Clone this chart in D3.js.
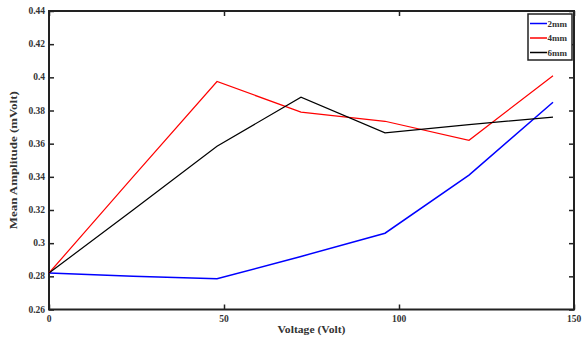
<!DOCTYPE html>
<html><head><meta charset="utf-8">
<script src="https://cdn.jsdelivr.net/npm/d3@7/dist/d3.min.js"></script>
<style>body{margin:0;background:#fff}svg{display:block}</style>
</head><body>
<script>
const voltage = [0, 24, 48, 72, 96, 120, 144];
const mm2 = [0.282, 0.280, 0.2785, 0.292, 0.306, 0.341, 0.385];
const mm4 = [0.282, 0.340, 0.3975, 0.379, 0.3735, 0.362, 0.401];
const mm6 = [0.282, 0.320, 0.3585, 0.388, 0.3665, 0.3715, 0.376];
const seriesNames = ["2mm", "4mm", "6mm"];
const seriesColors = ["#0000ff", "#ff0000", "#000000"];
const xTicks = [0, 50, 100, 150];
const yTicks = [0.26, 0.28, 0.3, 0.32, 0.34, 0.36, 0.38, 0.4, 0.42, 0.44];
const xTitle = "Voltage (Volt)";
const yTitle = "Mean Amplitude (mVolt)";

const W = 584, H = 339;
const L = 49, R = 574, T = 11, B = 309.5;
const svg = d3.select("body").append("svg").attr("width", W).attr("height", H);
const x = d3.scaleLinear().domain([0, 150]).range([L, R]);
const y = d3.scaleLinear().domain([0.26, 0.44]).range([B, T]);
const font = "Liberation Serif";

const gL = svg.append("g").attr("transform", `translate(${L},0)`)
  .call(d3.axisRight(y).tickValues(yTicks).tickSize(5).tickFormat(""));
const gR = svg.append("g").attr("transform", `translate(${R},0)`)
  .call(d3.axisLeft(y).tickValues(yTicks).tickSize(5).tickFormat(""));
const gB = svg.append("g").attr("transform", `translate(0,${B})`)
  .call(d3.axisTop(x).tickValues(xTicks).tickSize(5).tickFormat(""));
const gT = svg.append("g").attr("transform", `translate(0,${T})`)
  .call(d3.axisBottom(x).tickValues(xTicks).tickSize(5).tickFormat(""));
[gL, gR, gB, gT].forEach(g => { g.select(".domain").remove(); g.selectAll("line").attr("stroke", "#222").attr("stroke-width", 1.5); });

svg.append("rect").attr("x", L).attr("y", T).attr("width", R - L).attr("height", B - T)
  .attr("fill", "none").attr("stroke", "#222").attr("stroke-width", 2);

svg.append("g").selectAll("text").data(yTicks).join("text")
  .attr("x", L - 4).attr("y", d => y(d) + 3).attr("text-anchor", "end")
  .attr("font-family", font).attr("font-weight", "bold").attr("font-size", 9.5).attr("fill", "#333")
  .text(d => d3.format("")(+d.toFixed(2)));
svg.append("g").selectAll("text").data(xTicks).join("text")
  .attr("x", d => x(d)).attr("y", B + 12).attr("text-anchor", "middle")
  .attr("font-family", font).attr("font-weight", "bold").attr("font-size", 9.5).attr("fill", "#333")
  .text(d => d);

svg.append("text").attr("x", (L + R) / 2).attr("y", B + 23).attr("text-anchor", "middle")
  .attr("font-family", font).attr("font-weight", "bold").attr("font-size", 9.5).attr("fill", "#333")
  .attr("textLength", 68).attr("lengthAdjust", "spacingAndGlyphs").text(xTitle);
svg.append("text").attr("transform", `translate(17,${(T + B) / 2}) rotate(-90)`).attr("text-anchor", "middle")
  .attr("font-family", font).attr("font-weight", "bold").attr("font-size", 9.5).attr("fill", "#333")
  .attr("textLength", 138).attr("lengthAdjust", "spacingAndGlyphs").text(yTitle);

const data = [mm2, mm4, mm6];
const line = d3.line().x((d, i) => x(voltage[i])).y(d => y(d));
data.forEach((s, k) => {
  svg.append("path").datum(s).attr("d", line).attr("fill", "none")
    .attr("stroke", seriesColors[k]).attr("stroke-width", k === 0 ? 1.5 : 1.2);
});

const lg = svg.append("g");
lg.append("rect").attr("x", 528).attr("y", 14).attr("width", 44).attr("height", 46)
  .attr("fill", "#fff").attr("stroke", "#222").attr("stroke-width", 1.5);
seriesNames.forEach((n, k) => {
  const yy = 23.5 + k * 14.5;
  lg.append("line").attr("x1", 530).attr("x2", 547).attr("y1", yy).attr("y2", yy)
    .attr("stroke", seriesColors[k]).attr("stroke-width", 1.5);
  lg.append("text").attr("x", 547.5).attr("y", yy + 3).attr("font-family", font).attr("font-weight", "bold")
    .attr("font-size", 9).attr("fill", "#333").text(n);
});
</script>
</body></html>
